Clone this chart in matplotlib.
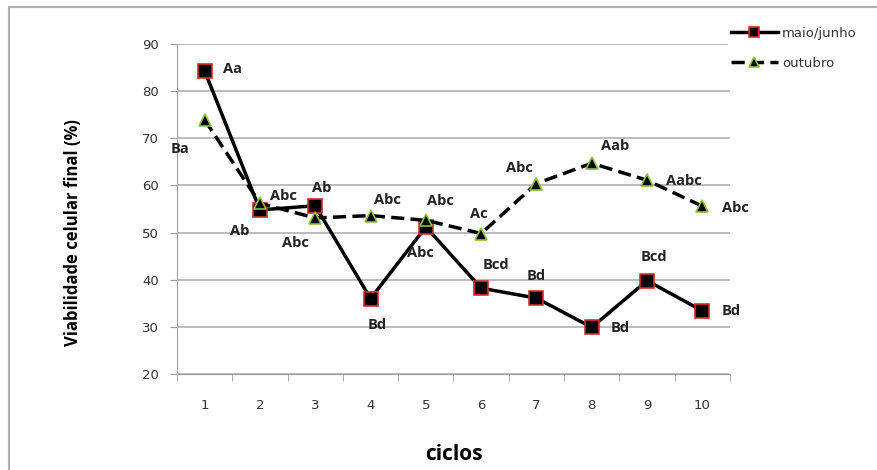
import matplotlib
matplotlib.use("Agg")
import matplotlib.pyplot as plt
from matplotlib.patches import Rectangle

ciclos = [1, 2, 3, 4, 5, 6, 7, 8, 9, 10]
maio_junho = [84.3, 54.8, 55.7, 36.0, 51.2, 38.2, 36.1, 29.9, 39.8, 33.4]
outubro = [73.9, 56.2, 53.1, 53.6, 52.6, 49.8, 60.4, 64.7, 61.1, 55.6]
letras_maio = ["Aa", "Ab", "Ab", "Bd", "Abc", "Bcd", "Bd", "Bd", "Bcd", "Bd"]
letras_out = ["Ba", "Abc", "Abc", "Abc", "Abc", "Ac", "Abc", "Aab", "Aabc", "Abc"]

# deslocamento dos rotulos em pixels (dx, dy para baixo)
off_maio = [(28, -2), (-20, 21), (6, -18), (7, 26), (-5, 26),
            (15, -23), (0, -22), (28, 1), (7, -24), (29, 0)]
off_out = [(-25, 29), (23, -7), (-20, 25), (17, -16), (15, -19),
           (-2, -20), (-17, -16), (23, -17), (37, 1), (33, 2)]

W, H = 878, 470
fig = plt.figure(figsize=(W / 100, H / 100), dpi=100)
fig.patches.append(Rectangle((9 / W, -0.1), 2, 1.1 - 7 / H, transform=fig.transFigure,
                             fill=False, edgecolor="#b0b0b0", linewidth=1.5))

ax = fig.add_axes([177 / W, 1 - 374 / H, (730 - 177) / W, (374 - 44) / H])

ax.plot(ciclos, maio_junho, color="black", lw=2.5, marker="s", ms=10,
        mfc="black", mec="#d03030", mew=1.2, label="maio/junho", zorder=3)
ax.plot(ciclos, outubro, color="black", lw=2.5, ls=(0, (3.8, 1.8)), marker="^", ms=9,
        mfc="black", mec="#8cc040", mew=1.2, label="outubro", zorder=3)

lab_font = dict(fontsize=10.5, fontweight="bold", family=["Open Sans", "DejaVu Sans"],
                color="#222222")
for x, y, t, (dx, dy) in zip(ciclos, maio_junho, letras_maio, off_maio):
    ax.annotate(t, (x, y), xytext=(dx * 0.72, -dy * 0.72), textcoords="offset points",
                ha="center", va="center", **lab_font)
for x, y, t, (dx, dy) in zip(ciclos, outubro, letras_out, off_out):
    ax.annotate(t, (x, y), xytext=(dx * 0.72, -dy * 0.72), textcoords="offset points",
                ha="center", va="center", **lab_font)

ax.set_xlim(0.5, 10.5)
ax.set_ylim(20, 90)
ax.set_yticks(range(20, 91, 10))
ax.yaxis.grid(True, color="#b0b0b0", lw=1.2)
ax.set_axisbelow(True)
for s in ["top", "right"]:
    ax.spines[s].set_visible(False)
ax.spines["left"].set_color("#a0a0a0")
ax.spines["bottom"].set_color("#a0a0a0")

ax.set_xticks(ciclos)
ax.set_xticks([i + 0.5 for i in range(0, 11)], minor=True)
ax.tick_params(axis="x", which="major", length=0, pad=18, labelsize=9.5, labelcolor="#333333")
ax.tick_params(axis="x", which="minor", length=5, color="#a0a0a0")
ax.tick_params(axis="y", length=5, color="#a0a0a0", labelsize=9.5, labelcolor="#333333", pad=8)

ax.set_xlabel("ciclos", fontsize=15, fontweight="bold", family=["Open Sans", "DejaVu Sans"],
              labelpad=23)
ax.set_ylabel("Viabilidade celular final (%)", fontsize=12, fontweight="bold",
              family=["Open Sans", "DejaVu Sans"])
ax.yaxis.set_label_coords(-0.172, 0.43)

leg = ax.legend(loc="upper left", bbox_to_anchor=(728 / W, 1 - 24 / H),
                bbox_transform=fig.transFigure, frameon=True, framealpha=1,
                edgecolor="white", fontsize=9.5, handlelength=3.6, handletextpad=0.3,
                labelspacing=1.3, borderaxespad=0, borderpad=0.2, markerscale=0.75)
for t in leg.get_texts():
    t.set_color("#333333")

fig.savefig("out.png", dpi=100)
